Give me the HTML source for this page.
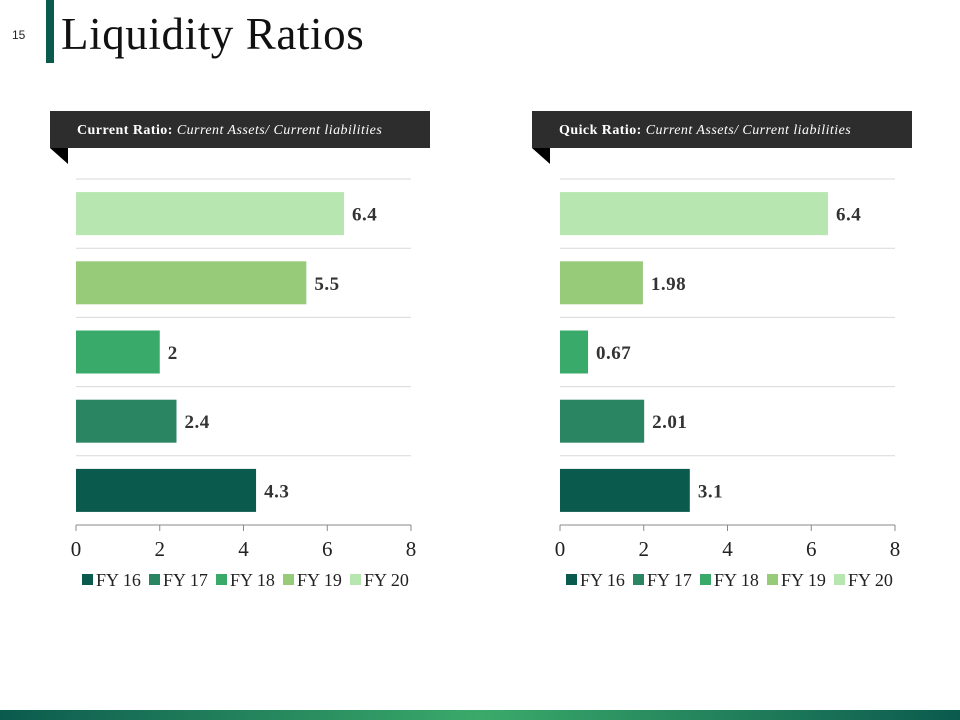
<!DOCTYPE html>
<html><head><meta charset="utf-8">
<style>
body{margin:0;width:960px;height:720px;overflow:hidden;background:#fff;position:relative;font-family:"Liberation Serif",serif}
.num{position:absolute;left:12px;top:28px;font:12px "Liberation Sans",sans-serif;color:#222}
.bar{position:absolute;left:46px;top:0;width:8px;height:63px;background:#0b5a4e}
h1{position:absolute;left:61px;top:8px;margin:0;font-weight:normal;font-size:45px;color:#111;letter-spacing:0.6px}
.hdr{position:absolute;top:111px;height:37px;width:380px;background:#2d2d2d;color:#fff;font-size:14px;line-height:39px;box-sizing:border-box;padding-left:27px;letter-spacing:0.45px;white-space:nowrap}
.tab{position:absolute;top:148px;width:0;height:0;border-top:16px solid #000;border-left:18px solid transparent}
.foot{position:absolute;left:0;top:710px;width:960px;height:10px;background:linear-gradient(90deg,#0b5a4e,#3aaa6a 50%,#0b5a4e)}
</style></head><body>
<div class="num">15</div>
<div class="bar"></div>
<h1>Liquidity Ratios</h1>
<div class="hdr" style="left:50px"><b>Current Ratio:</b> <i>Current Assets/ Current liabilities</i></div>
<div class="tab" style="left:50px"></div>
<div class="hdr" style="left:532px"><b>Quick Ratio:</b> <i>Current Assets/ Current liabilities</i></div>
<div class="tab" style="left:532px"></div>
<svg id="chart" width="960" height="720" style="position:absolute;left:0;top:0"></svg>
<div class="foot"></div>
<script>
const categories=["FY 16","FY 17","FY 18","FY 19","FY 20"];
const currentValues=[4.3,2.4,2,5.5,6.4];
const currentLabels=["4.3","2.4","2","5.5","6.4"];
const quickValues=[3.1,2.01,0.67,1.98,6.4];
const quickLabels=["3.1","2.01","0.67","1.98","6.4"];
const ticks=[0,2,4,6,8];
const colors=["#0b5a4e","#2a8662","#3aaa6a","#97cb79","#b8e6b0"];
const svg=document.getElementById('chart');
const NS="http://www.w3.org/2000/svg";
function mk(t,a,txt){const e=document.createElementNS(NS,t);for(const k in a)e.setAttribute(k,a[k]);if(txt!=null)e.textContent=txt;svg.appendChild(e);return e;}
function draw(x0,vals,labels,name){
 const x1=x0+335,top=179,bot=525,band=(bot-top)/categories.length;
 const xs=v=>x0+(v-ticks[0])/(ticks[ticks.length-1]-ticks[0])*(x1-x0);
 for(let i=0;i<categories.length;i++){
  const g=mk('line',{x1:x0,x2:x1,y1:top+i*band,y2:top+i*band,stroke:'#d9d9d9','stroke-width':1});
  
 }
 const ax=mk('line',{x1:x0,x2:x1,y1:bot,y2:bot,stroke:'#888','stroke-width':1});
 
 ticks.forEach(t=>{
  const tk=mk('line',{x1:xs(t),x2:xs(t),y1:bot,y2:bot+6,stroke:'#888'});
  
  const tl=mk('text',{x:xs(t),y:bot+31,'text-anchor':'middle','font-size':21,fill:'#222'},String(t));
  
 });
 vals.forEach((v,i)=>{
  const cy=bot-(i+0.5)*band,h=43;
  const r=mk('rect',{x:x0,y:cy-h/2,width:xs(v)-x0,height:h,fill:colors[i]});
  
  
  const l=mk('text',{x:xs(v)+8,y:cy+7,'font-size':19,'font-weight':'bold',fill:'#333','letter-spacing':0.5},labels[i]);
  
 });
 let lx=x0+6;
 categories.forEach((c,i)=>{
  const s=mk('rect',{x:lx,y:574,width:11,height:11,fill:colors[i]});
  
  const t=mk('text',{x:lx+14,y:586,'font-size':18,fill:'#222'},c);
  
  lx+=67;
 });
}
draw(76,currentValues,currentLabels,'current');
draw(560,quickValues,quickLabels,'quick');
</script>
</body></html>
